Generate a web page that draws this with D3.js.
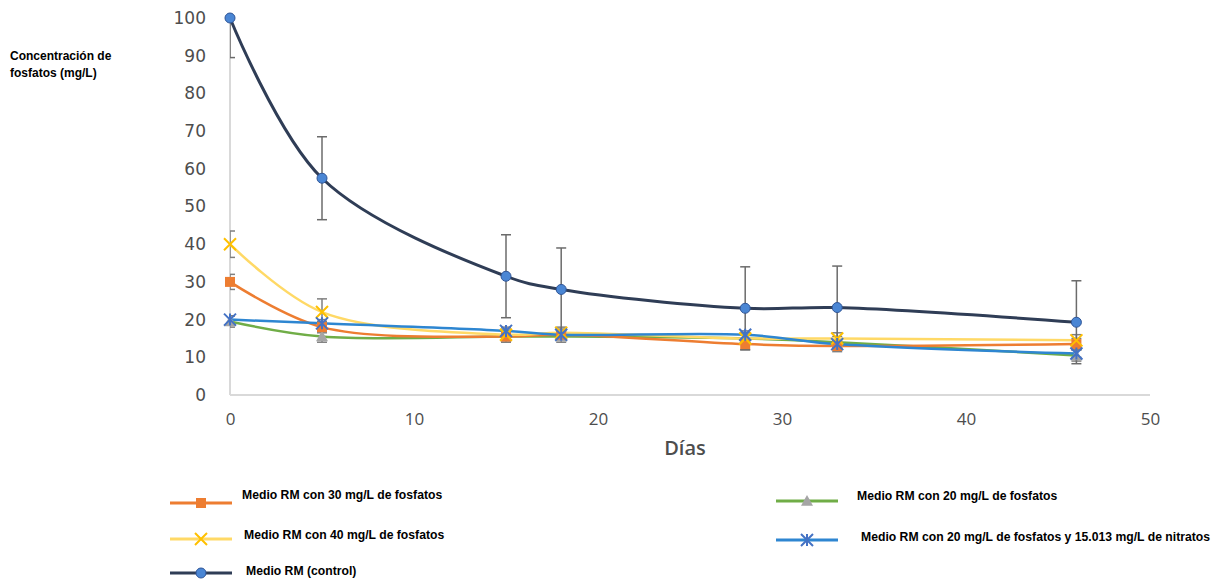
<!DOCTYPE html>
<html><head><meta charset="utf-8">
<script src="https://cdn.jsdelivr.net/npm/d3@7"></script>
<style>body{margin:0;background:#fff}svg{display:block}</style>
</head><body>
<script>
const days = [0, 5, 15, 18, 28, 33, 46];
const control = [100, 57.5, 31.5, 28, 23, 23.2, 19.3];
const controlErr = [10.5, 11, 11, 11, 11, 11, 11];
const p30 = [30, 18, 15.5, 16, 13.5, 13, 13.5];
const p30Err = [2, 1.5, 1.5, 1.5, 1.5, 1.5, 1.5];
const p40 = [40, 22, 16, 16.5, 15, 15, 14.5];
const p40Err = [3.5, 3.5, 1.5, 1.5, 1.5, 1.5, 1.5];
const p20 = [19.5, 15.5, 15.5, 15.5, 15, 14, 10.5];
const p20Err = [1.5, 1.5, 1.5, 1.5, 1.5, 1.5, 1.5];
const p20n = [20, 19, 17, 16, 16, 13.5, 11];
const p20nErr = [1, 1, 1, 1, 1, 1, 1];
const xTicks = [0, 10, 20, 30, 40, 50];
const yTicks = [0, 10, 20, 30, 40, 50, 60, 70, 80, 90, 100];
const seriesNames = [
  "Medio RM con 30 mg/L de fosfatos",
  "Medio RM con 40 mg/L de fosfatos",
  "Medio RM (control)",
  "Medio RM con 20 mg/L de fosfatos",
  "Medio RM con 20 mg/L de fosfatos y 15.013 mg/L de nitratos"
];

const W = 1219, H = 580;
const svg = d3.select("body").append("svg").attr("width", W).attr("height", H);
const x = d3.scaleLinear().domain([0, 50]).range([230, 1150]);
const y = d3.scaleLinear().domain([0, 100]).range([395, 18]);

svg.append("defs").append("clipPath").attr("id", "clip")
  .append("rect").attr("x", 230).attr("y", 18).attr("width", 920).attr("height", 377);

svg.append("line").attr("x1", 230).attr("x2", 1150).attr("y1", y(0)).attr("y2", y(0)).attr("stroke", "#d9d9d9").attr("stroke-width", 2);
svg.append("line").attr("x1", 230).attr("x2", 230).attr("y1", y(0)).attr("y2", y(100)).attr("stroke", "#d9d9d9").attr("stroke-width", 2);

const tickCol = "#4d4d4d";
const yAxis = d3.axisLeft(y).tickValues(yTicks).tickSize(0).tickPadding(0);
const gy = svg.append("g").attr("transform", "translate(206,0)").call(yAxis);
gy.select(".domain").remove();
gy.selectAll("text").attr("fill", tickCol).style("font-family", "'DejaVu Sans', sans-serif").style("font-size", "17px");

const xAxis = d3.axisBottom(x).tickValues(xTicks).tickSize(0).tickPadding(0);
const gx = svg.append("g").attr("transform", "translate(0,413)").call(xAxis);
gx.select(".domain").remove();
gx.selectAll("text").attr("fill", tickCol).style("font-family", "'Open Sans', sans-serif").style("font-size", "17px");

svg.append("text").attr("x", 685).attr("y", 455).attr("text-anchor", "middle")
  .attr("fill", tickCol).style("font-family", "'Open Sans', sans-serif").style("font-size", "20px").style("font-weight", "600").text("Días");

const labFont = "'Liberation Sans', Arial, sans-serif";
svg.append("text").attr("x", 10).attr("y", 60).style("font-family", labFont).style("font-weight", "bold").style("font-size", "12px").text("Concentración de");
svg.append("text").attr("x", 10).attr("y", 77).style("font-family", labFont).style("font-weight", "bold").style("font-size", "12px").text("fosfatos (mg/L)");

const series = [
  {vals: p20, err: p20Err, line: "#70AD47", marker: "tri", mcol: "#A5A5A5", lw: 2.5},
  {vals: p30, err: p30Err, line: "#ED7D31", marker: "sq", mcol: "#ED7D31", lw: 2.5},
  {vals: p40, err: p40Err, line: "#FFD966", marker: "x", mcol: "#FFC000", lw: 2.5},
  {vals: p20n, err: p20nErr, line: "#2E86D1", marker: "star", mcol: "#4472C4", lw: 2.5},
  {vals: control, err: controlErr, line: "#2F3D56", marker: "circ", mcol: "#4A86D4", lw: 3}
];

const lineGen = d3.line().x(d => x(d[0])).y(d => y(d[1])).curve(d3.curveCatmullRom.alpha(0.5));

function drawMarker(g, type, cx, cy, col) {
  if (type === "circ") {
    g.append("circle").attr("cx", cx).attr("cy", cy).attr("r", 5).attr("fill", col).attr("stroke", "#2f5597").attr("stroke-width", 1);
  } else if (type === "sq") {
    g.append("rect").attr("x", cx - 5).attr("y", cy - 5).attr("width", 10).attr("height", 10).attr("fill", col);
  } else if (type === "x") {
    const r = 6;
    g.append("path").attr("d", `M${cx - r},${cy - r}L${cx + r},${cy + r}M${cx - r},${cy + r}L${cx + r},${cy - r}`).attr("stroke", col).attr("stroke-width", 2);
  } else if (type === "tri") {
    const r = 6;
    g.append("path").attr("d", `M${cx},${cy - r}L${cx + r},${cy + r * 0.8}L${cx - r},${cy + r * 0.8}Z`).attr("fill", col);
  } else if (type === "star") {
    const r = 6;
    g.append("path").attr("d", `M${cx - r},${cy - r}L${cx + r},${cy + r}M${cx - r},${cy + r}L${cx + r},${cy - r}M${cx},${cy - r}L${cx},${cy + r}`).attr("stroke", col).attr("stroke-width", 2);
  }
}

const plot = svg.append("g");
const eg = plot.append("g").attr("clip-path", "url(#clip)");
series.forEach(s => {
  days.forEach((d, i) => {
    const e = s.err[i];
    const cx = x(d), y1 = y(s.vals[i] + e), y2 = y(s.vals[i] - e);
    const col = s.marker === "circ" ? "#6b6b6b" : "#7f7f7f";
    eg.append("line").attr("x1", cx).attr("x2", cx).attr("y1", y1).attr("y2", y2).attr("stroke", col).attr("stroke-width", 1.5);
    eg.append("line").attr("x1", cx - 5).attr("x2", cx + 5).attr("y1", y1).attr("y2", y1).attr("stroke", col).attr("stroke-width", 1.5);
    eg.append("line").attr("x1", cx - 5).attr("x2", cx + 5).attr("y1", y2).attr("y2", y2).attr("stroke", col).attr("stroke-width", 1.5);
  });
});
series.forEach(s => {
  plot.append("path").datum(days.map((d, i) => [d, s.vals[i]])).attr("d", lineGen)
    .attr("fill", "none").attr("stroke", s.line).attr("stroke-width", s.lw);
});
series.forEach(s => {
  days.forEach((d, i) => drawMarker(plot, s.marker, x(d), y(s.vals[i]), s.mcol));
});

const legend = [
  {name: seriesNames[0], s: series[1], lx: 170, tx: 242, ly: 503, ty: 499},
  {name: seriesNames[1], s: series[2], lx: 170, tx: 244, ly: 539, ty: 539},
  {name: seriesNames[2], s: series[4], lx: 170, tx: 246, ly: 573, ty: 575},
  {name: seriesNames[3], s: series[0], lx: 776, tx: 857, ly: 501, ty: 500},
  {name: seriesNames[4], s: series[3], lx: 776, tx: 861, ly: 540, ty: 541}
];
const lg = svg.append("g");
legend.forEach(l => {
  lg.append("line").attr("x1", l.lx).attr("x2", l.lx + 62).attr("y1", l.ly).attr("y2", l.ly).attr("stroke", l.s.line).attr("stroke-width", 3);
  drawMarker(lg, l.s.marker, l.lx + 31, l.ly, l.s.mcol);
  lg.append("text").attr("x", l.tx).attr("y", l.ty).style("font-family", labFont).style("font-weight", "bold").style("font-size", "12.2px").text(l.name);
});
</script>
</body></html>
